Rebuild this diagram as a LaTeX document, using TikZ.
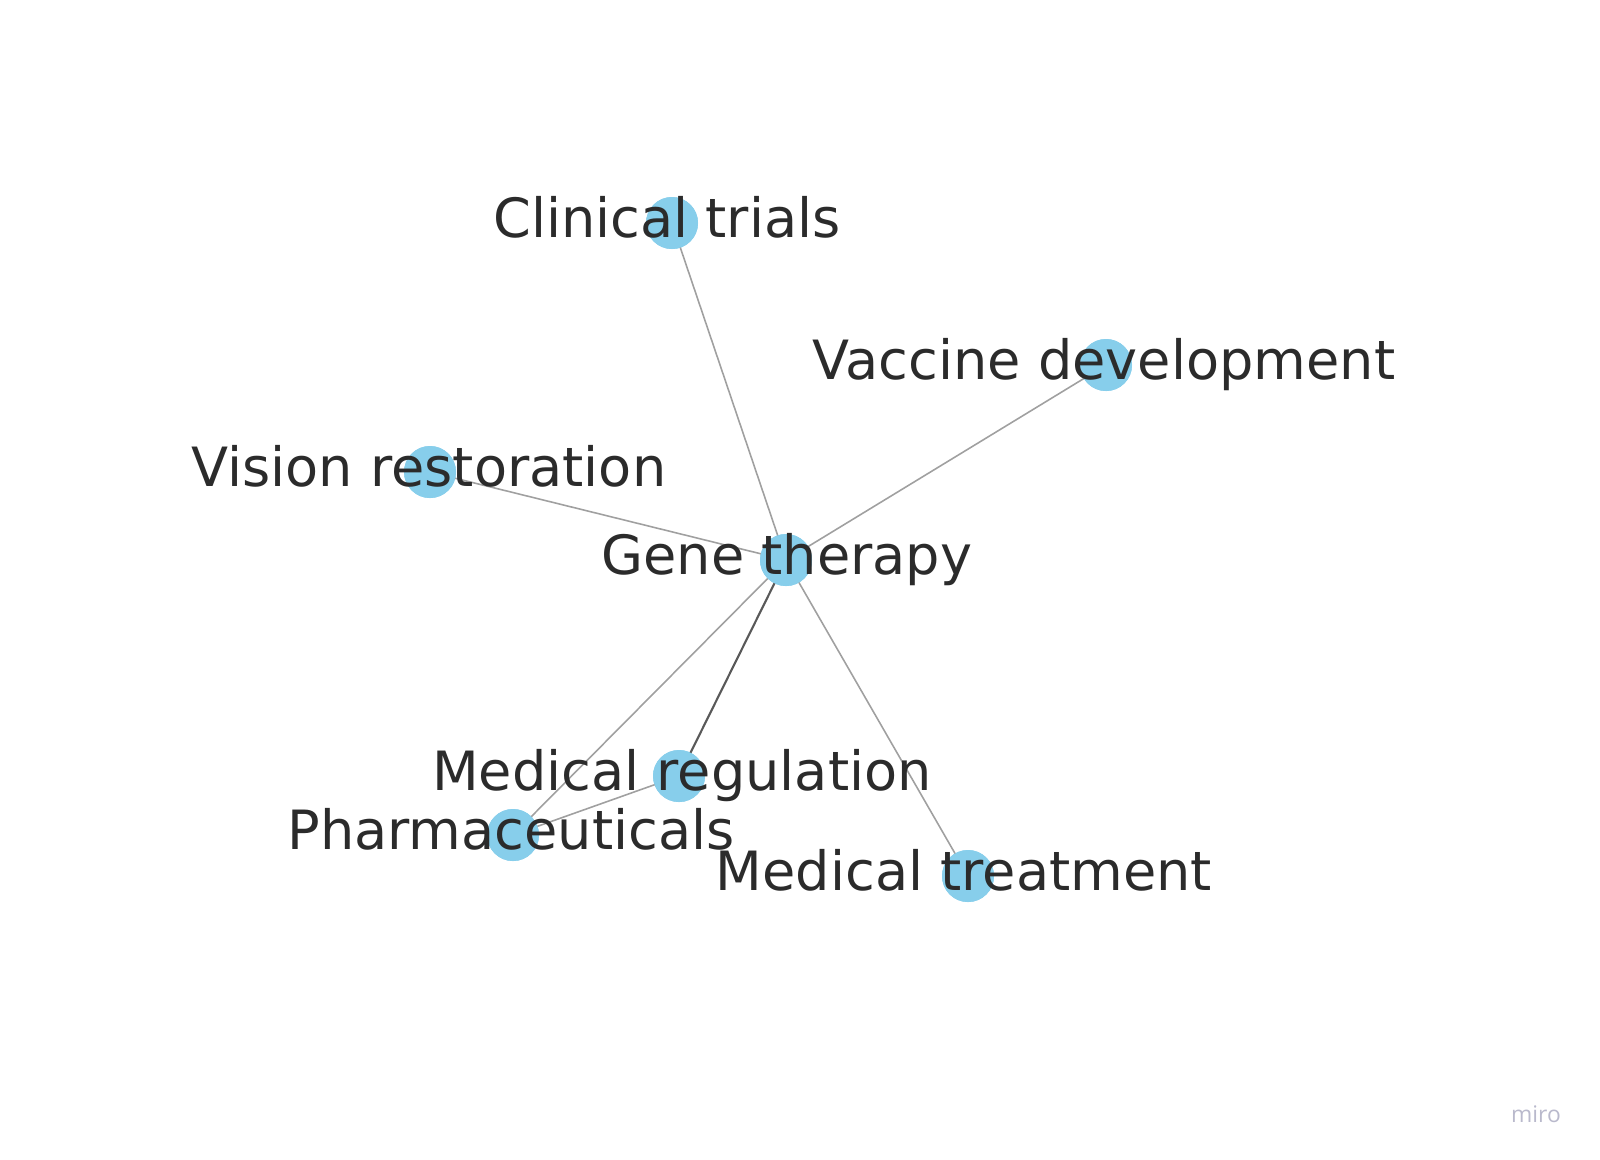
\documentclass[tikz,border=0pt]{standalone}
\usepackage{fontspec}
\setmainfont{DejaVu Sans}
\newfontfamily\mirofont{Open Sans}
\definecolor{skyblue}{HTML}{87CEEB}
\definecolor{labelgray}{HTML}{2B2B2B}
\definecolor{edgegray}{HTML}{A0A0A0}
\definecolor{mirogray}{HTML}{B9B9CC}
\begin{document}
\begin{tikzpicture}[
  dot/.style={circle, fill=skyblue, minimum size=0.52cm, inner sep=0pt},
  lbl/.style={text=labelgray, font=\fontsize{15.4}{18}\selectfont, text height=0.76em, text depth=0.21em, inner sep=0pt, yshift=-0.05cm},
  edge/.style={draw=edgegray, line width=0.45pt},
  dark/.style={draw=black!65, line width=0.6pt}
]
\useasboundingbox (0,0) rectangle (16,-11.59);
% nodes
\node[dot] (CT) at (6.72,-2.23) {};
\node[dot] (VD) at (11.06,-3.65) {};
\node[dot] (VR) at (4.30,-4.72) {};
\node[dot] (GT) at (7.86,-5.60) {};
\node[dot] (MR) at (6.79,-7.76) {};
\node[dot] (PH) at (5.13,-8.35) {};
\node[dot] (MT) at (9.68,-8.76) {};
% edges
\path[edge] (GT.center) -- (CT.center);
\path[edge] (GT.center) -- (VD.center);
\path[edge] (GT.center) -- (VR.center);
\path[edge] (GT.center) -- (PH.center);
\path[edge] (GT.center) -- (MT.center);
\path[dark] (GT.center) -- (MR.center);
\path[edge] (PH.center) -- (MR.center);
% redraw dots over edges
\foreach \n in {CT,VD,VR,GT,MR,PH,MT} {\fill[skyblue] (\n) circle (0.26cm);}
% labels
\node[lbl] (tCT) at (6.67,-2.23) {Clinical trials};
\node[lbl] (tVD) at (11.04,-3.65) {Vaccine development};
\node[lbl] (tVR) at (4.29,-4.72) {Vision restoration};
\node[lbl] (tGT) at (7.87,-5.60) {Gene therapy};
\node[lbl] (tMR) at (6.82,-7.76) {Medical regulation};
\node[lbl] (tPH) at (5.11,-8.35) {Pharmaceuticals};
\node[lbl] (tMT) at (9.64,-8.76) {Medical treatment};
\node[text=mirogray, font=\mirofont\fontsize{6.5}{8}\selectfont, inner sep=0pt] (miro) at (15.36,-11.14) {miro};
\end{tikzpicture}
\end{document}
